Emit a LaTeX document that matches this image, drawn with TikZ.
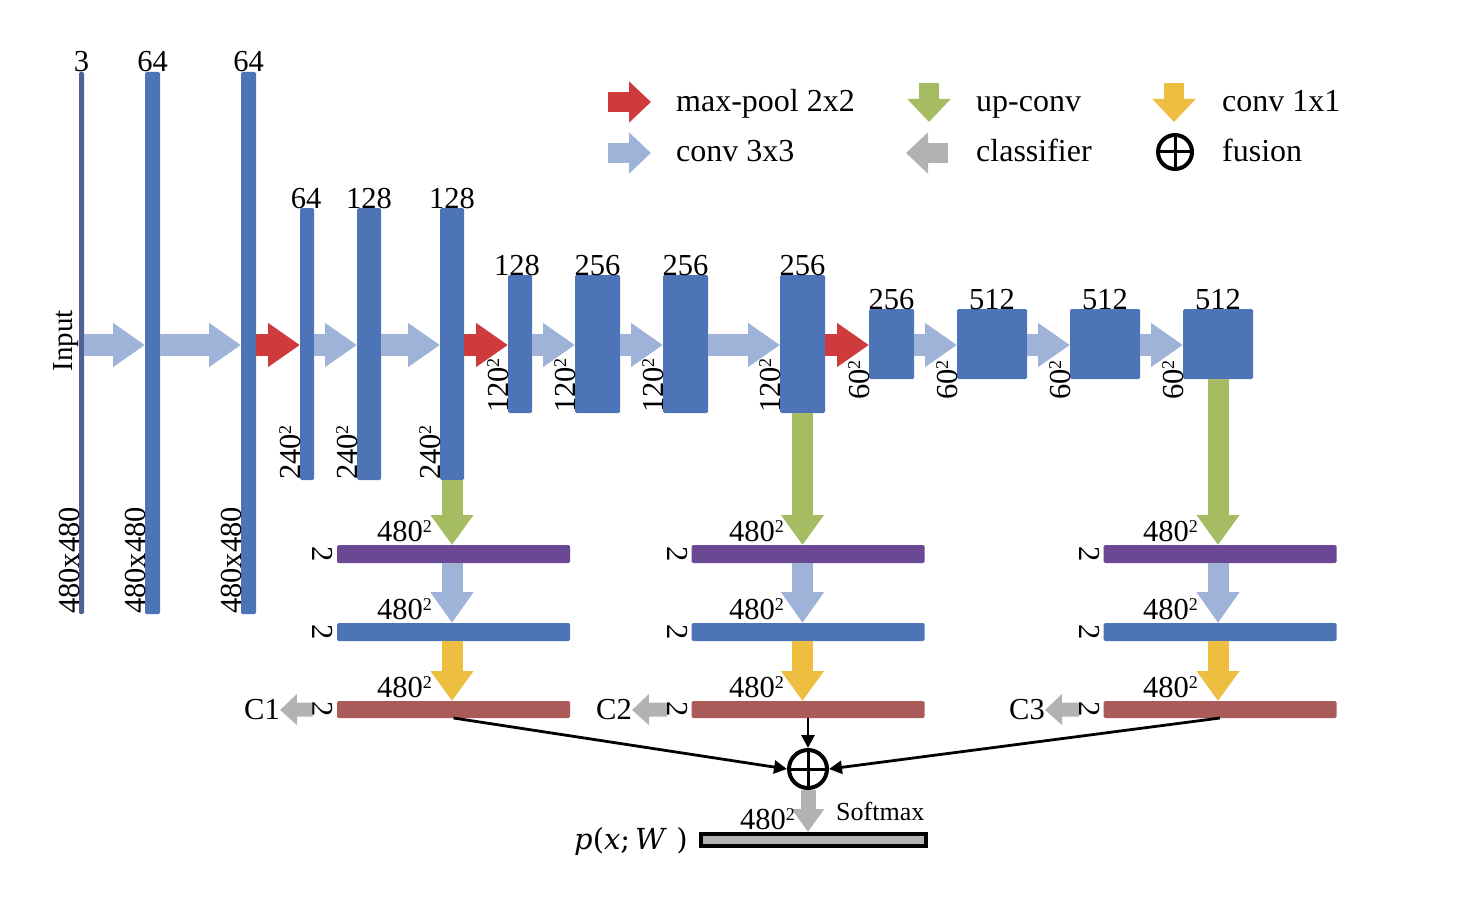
\documentclass[tikz,border=0pt]{standalone}
\usepackage{fontspec}
\setmainfont{Liberation Serif}
\newfontfamily\mathlike{DejaVu Serif}
\usetikzlibrary{arrows.meta}
\definecolor{barblue}{HTML}{4E74B8}
\definecolor{inblue}{HTML}{4D6394}
\definecolor{convc}{HTML}{9EB3D7}
\definecolor{poolc}{HTML}{CF3A3C}
\definecolor{upc}{HTML}{A6BC62}
\definecolor{onec}{HTML}{EDBE40}
\definecolor{grayc}{HTML}{B2B2B2}
\definecolor{purc}{HTML}{6A4893}
\definecolor{redbar}{HTML}{AA5A59}
\newcommand\sqr{\raisebox{9pt}{\fontsize{18}{18}\selectfont 2}}
\begin{document}
\begin{tikzpicture}[x=1pt,y=-1pt,font=\fontsize{30.5}{36}\selectfont,
  bar/.style={fill=barblue,inner sep=0,outer sep=0,rounded corners=1.5pt},
  ttl/.style={anchor=base,inner sep=0},
  rotl/.style={rotate=90,inner sep=0,anchor=base west},
  rotr/.style={rotate=-90,inner sep=0,anchor=north},
  hconv/.style={draw=convc,line width=22pt,-{Triangle[width=42pt,length=32pt]}},
  hpool/.style={draw=poolc,line width=22pt,-{Triangle[width=42pt,length=32pt]}},
  vup/.style={draw=upc,line width=21pt,-{Triangle[width=41pt,length=30pt]}},
  vconv/.style={draw=convc,line width=21pt,-{Triangle[width=41pt,length=31pt]}},
  vone/.style={draw=onec,line width=21pt,-{Triangle[width=41pt,length=30pt]}},
  cls/.style={draw=grayc,line width=14pt,-{Triangle[width=30pt,length=17pt]}},
  fuse/.style={draw=black,line width=2.8pt,-{Triangle[width=13pt,length=13pt]}},
  sz/.style={anchor=base east,inner sep=0},
  lgtxt/.style={anchor=base west,inner sep=0,font=\fontsize{32}{38}\selectfont}]
\useasboundingbox (0,0) rectangle (1466,904);
\coordinate (m) at (0,345);
% ---- encoder bars
\node[bar,fill=inblue,minimum width=5,minimum height=542] (b0) at (81.5,343) {};
\node[bar,minimum width=15,minimum height=542] (b1) at (152.5,343) {};
\node[bar,minimum width=15,minimum height=542] (b2) at (248.5,343) {};
\node[bar,minimum width=14,minimum height=272] (c1) at (307,344) {};
\node[bar,minimum width=24,minimum height=272] (c2) at (369,344) {};
\node[bar,minimum width=24,minimum height=272] (c3) at (452,344) {};
\node[bar,minimum width=24,minimum height=138] (d1) at (520,344) {};
\node[bar,minimum width=45,minimum height=138] (d2) at (597.5,344) {};
\node[bar,minimum width=45,minimum height=138] (d3) at (685.5,344) {};
\node[bar,minimum width=45,minimum height=138] (d4) at (802.5,344) {};
\node[bar,minimum width=45,minimum height=70] (e1) at (891.5,344) {};
\node[bar,minimum width=70,minimum height=70] (e2) at (992,344) {};
\node[bar,minimum width=70,minimum height=70] (e3) at (1105,344) {};
\node[bar,minimum width=70,minimum height=70] (e4) at (1218,344) {};
% top labels
\node[ttl] (tb0) at (b0.north) {3};
\node[ttl] (tb1) at (b1.north) {64};
\node[ttl] (tb2) at (b2.north) {64};
\node[ttl] (tc1) at ([xshift=-1pt]c1.north) {64};
\node[ttl] (tc2) at (c2.north) {128};
\node[ttl] (tc3) at (c3.north) {128};
\node[ttl] (td1) at ([xshift=-3pt]d1.north) {128};
\node[ttl] (td2) at (d2.north) {256};
\node[ttl] (td3) at (d3.north) {256};
\node[ttl] (td4) at (d4.north) {256};
\node[ttl] (te1) at (e1.north) {256};
\node[ttl] (te2) at (e2.north) {512};
\node[ttl] (te3) at (e3.north) {512};
\node[ttl] (te4) at (e4.north) {512};
% size labels
\node[rotl] (sb0) at (b0.south west) {480x480};
\node[rotl] (sb1) at (b1.south west) {480x480};
\node[rotl] (sb2) at (b2.south west) {480x480};
\node[rotl] (sc1) at (c1.south west) {240\sqr};
\node[rotl] (sc2) at (c2.south west) {240\sqr};
\node[rotl] (sc3) at (c3.south west) {240\sqr};
\node[rotl] (sd1) at (d1.south west) {120\sqr};
\node[rotl] (sd2) at (d2.south west) {120\sqr};
\node[rotl] (sd3) at (d3.south west) {120\sqr};
\node[rotl] (sd4) at (d4.south west) {120\sqr};
\node[rotl] (se1) at ([yshift=-21pt]e1.south west) {60\sqr};
\node[rotl] (se2) at ([yshift=-21pt]e2.south west) {60\sqr};
\node[rotl] (se3) at ([yshift=-21pt]e3.south west) {60\sqr};
\node[rotl] (se4) at ([yshift=-21pt]e4.south west) {60\sqr};
\node[rotate=90,inner sep=0,anchor=base,font=\fontsize{29}{34}\selectfont] (inp) at (72,341) {Input};
% horizontal arrows
\draw[hconv] (b0.east|-m) -- (b1.west|-m);
\draw[hconv] (b1.east|-m) -- (b2.west|-m);
\draw[hpool] (b2.east|-m) -- (c1.west|-m);
\draw[hconv] (c1.east|-m) -- (c2.west|-m);
\draw[hconv] (c2.east|-m) -- (c3.west|-m);
\draw[hpool] (c3.east|-m) -- (d1.west|-m);
\draw[hconv] (d1.east|-m) -- (d2.west|-m);
\draw[hconv] (d2.east|-m) -- (d3.west|-m);
\draw[hconv] (d3.east|-m) -- (d4.west|-m);
\draw[hpool] (d4.east|-m) -- (e1.west|-m);
\draw[hconv] (e1.east|-m) -- (e2.west|-m);
\draw[hconv] (e2.east|-m) -- (e3.west|-m);
\draw[hconv] (e3.east|-m) -- (e4.west|-m);
% ---- side branches
\node[bar,fill=purc,minimum width=233,minimum height=18] (p1) at (453.5,554) {};
\node[bar,minimum width=233,minimum height=18] (q1) at (453.5,632) {};
\node[bar,fill=redbar,minimum width=233,minimum height=17] (r1) at (453.5,709.5) {};
\node[bar,fill=purc,minimum width=233,minimum height=18] (p2) at (808,554) {};
\node[bar,minimum width=233,minimum height=18] (q2) at (808,632) {};
\node[bar,fill=redbar,minimum width=233,minimum height=17] (r2) at (808,709.5) {};
\node[bar,fill=purc,minimum width=233,minimum height=18] (p3) at (1220,554) {};
\node[bar,minimum width=233,minimum height=18] (q3) at (1220,632) {};
\node[bar,fill=redbar,minimum width=233,minimum height=17] (r3) at (1220,709.5) {};
% vertical arrows
\draw[vup] (c3.south) -- (c3.south|-p1.north);
\draw[vconv] (c3.south|-p1.south) -- (c3.south|-q1.north);
\draw[vone] (c3.south|-q1.south) -- (c3.south|-r1.north);
\draw[vup] (d4.south) -- (d4.south|-p2.north);
\draw[vconv] (d4.south|-p2.south) -- (d4.south|-q2.north);
\draw[vone] (d4.south|-q2.south) -- (d4.south|-r2.north);
\draw[vup] (e4.south) -- (e4.south|-p3.north);
\draw[vconv] (e4.south|-p3.south) -- (e4.south|-q3.north);
\draw[vone] (e4.south|-q3.south) -- (e4.south|-r3.north);
% 480^2 labels
\node[sz] (z11) at (432,541) {480\sqr};
\node[sz] (z12) at (432,619) {480\sqr};
\node[sz] (z13) at (432,697) {480\sqr};
\node[sz] (z21) at (784,541) {480\sqr};
\node[sz] (z22) at (784,619) {480\sqr};
\node[sz] (z23) at (784,697) {480\sqr};
\node[sz] (z31) at (1198,541) {480\sqr};
\node[sz] (z32) at (1198,619) {480\sqr};
\node[sz] (z33) at (1198,697) {480\sqr};
% channel labels
\node[rotr] (k11) at ([xshift=-4pt]p1.west) {2};
\node[rotr] (k12) at ([xshift=-4pt]q1.west) {2};
\node[rotr] (k13) at ([xshift=-4pt]r1.west) {2};
\node[rotr] (k21) at ([xshift=-4pt]p2.west) {2};
\node[rotr] (k22) at ([xshift=-4pt]q2.west) {2};
\node[rotr] (k23) at ([xshift=-4pt]r2.west) {2};
\node[rotr] (k31) at ([xshift=-4pt]p3.west) {2};
\node[rotr] (k32) at ([xshift=-4pt]q3.west) {2};
\node[rotr] (k33) at ([xshift=-4pt]r3.west) {2};
% classifiers
\node[anchor=east,inner sep=0] (C1) at (280,710) {C1};
\node[anchor=east,inner sep=0] (C2) at (632,710) {C2};
\node[anchor=east,inner sep=0] (C3) at (1045,710) {C3};
\draw[cls] (k13.south) -- (C1.east);
\draw[cls] (k23.south) -- (C2.east);
\draw[cls] (k33.south) -- (C3.east);
% fusion
\node[circle,draw=black,line width=4pt,minimum size=38,inner sep=0] (fu) at (808,769) {};
\draw[line width=3pt] (fu.north) -- (fu.south) (fu.west) -- (fu.east);
\draw[fuse] (r1.south) -- (fu.west);
\draw[fuse] (r2.south) -- (fu.north);
\draw[fuse] (r3.south) -- (fu.east);
% output
\node[draw=black,fill=grayc,line width=4pt,minimum width=225,minimum height=12,inner sep=0] (out) at (813.5,840) {};
\draw[draw=grayc,line width=15pt,-{Triangle[width=31pt,length=23pt]}] (fu.south) -- (fu.south|-out.north);
\node[sz] (zo) at (795,829) {480\sqr};
\node[anchor=base west,inner sep=0,font=\fontsize{26}{30}\selectfont] (smx) at (836,820) {Softmax};
\node[anchor=base east,inner sep=0,font=\fontsize{29}{36}\mathlike] (pxw) at (688,849) {\textit{p}(\textit{x};\,\textit{W}\,\,)};
% ---- legend
\draw[draw=poolc,line width=20pt,-{Triangle[width=40pt,length=22pt]}] (608,102) -- (651,102);
\draw[draw=convc,line width=20pt,-{Triangle[width=40pt,length=22pt]}] (608,153) -- (651,153);
\draw[draw=upc,line width=20pt,-{Triangle[width=42pt,length=23pt]}] (929,83) -- (929,122);
\draw[draw=grayc,line width=20pt,-{Triangle[width=40pt,length=22pt]}] (948,153) -- (906,153);
\draw[draw=onec,line width=20pt,-{Triangle[width=42pt,length=23pt]}] (1174,83) -- (1174,122);
\node[circle,draw=black,line width=4pt,minimum size=34,inner sep=0] (lfu) at (1175,152) {};
\draw[line width=3pt] (lfu.north) -- (lfu.south) (lfu.west) -- (lfu.east);
\node[lgtxt] (l1) at (676,112) {max-pool 2x2};
\node[lgtxt] (l2) at (676,162) {conv 3x3};
\node[lgtxt] (l3) at (976,112) {up-conv};
\node[lgtxt] (l4) at (976,162) {classifier};
\node[lgtxt] (l5) at (1222,112) {conv 1x1};
\node[lgtxt] (l6) at (1222,162) {fusion};
\end{tikzpicture}
\end{document}
